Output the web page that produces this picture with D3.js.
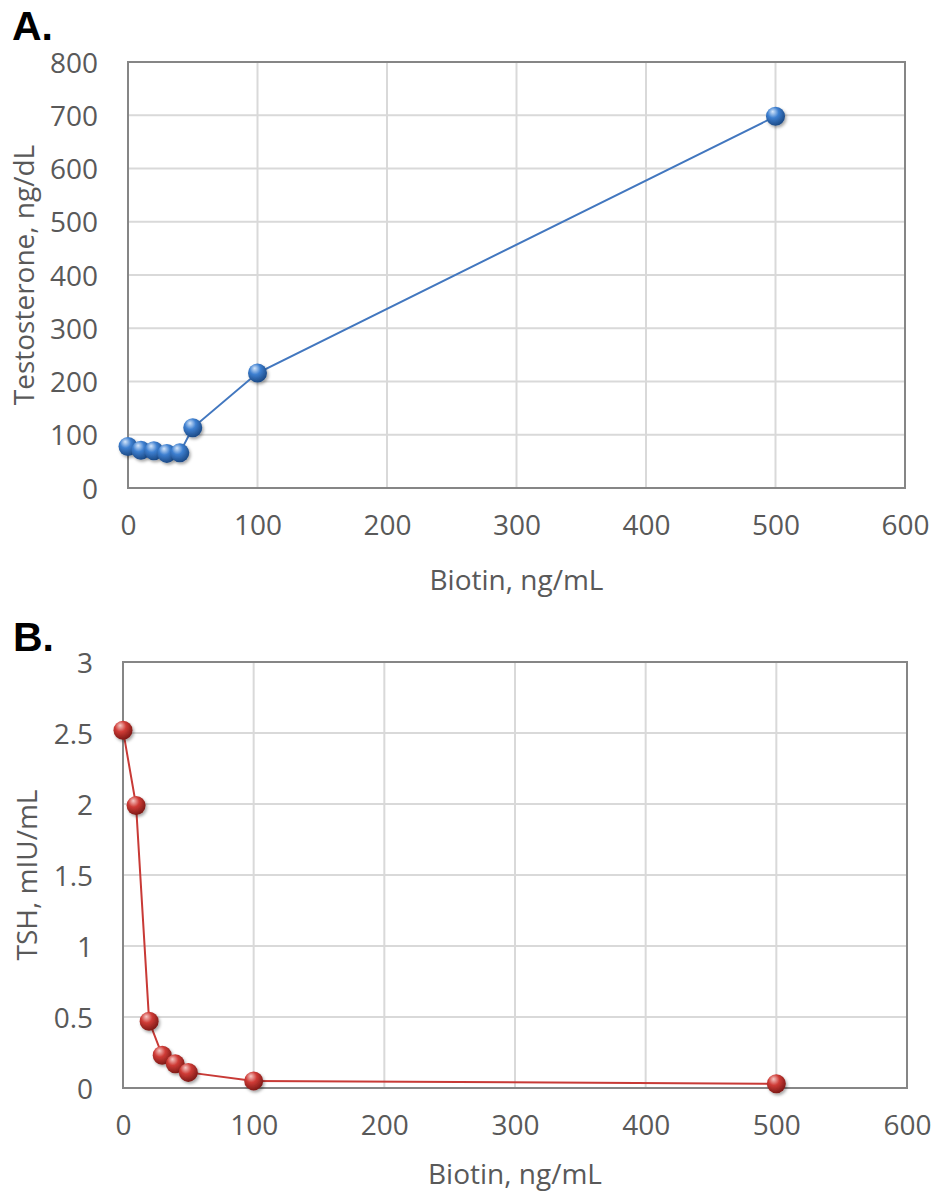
<!DOCTYPE html>
<html>
<head>
<meta charset="utf-8">
<script src="https://cdn.jsdelivr.net/npm/d3@7"></script>
<style>
  html, body { margin: 0; padding: 0; background: #fff; }
  svg { display: block; }
  .tick text { font-family: "Open Sans", sans-serif; font-size: 28px; fill: #595959; }
  .axis-title { font-family: "Open Sans", sans-serif; font-size: 28px; fill: #595959; }
  .panel-label { font-family: "Liberation Sans", Arial, sans-serif; font-size: 41px; font-weight: bold; fill: #000; }
</style>
</head>
<body>
<svg id="chart" width="933" height="1192"></svg>
<script>
// biotin concentration, shared by both panels
const biotin = [0, 10, 20, 30, 40, 50, 100, 500];
// panel A series
const testosterone = [78, 71, 70, 65, 66, 113, 216, 698];
// panel B series
const tsh = [2.52, 1.99, 0.47, 0.23, 0.17, 0.11, 0.05, 0.03];

const xTicks = [0, 100, 200, 300, 400, 500, 600];
const yTicksA = [0, 100, 200, 300, 400, 500, 600, 700, 800];
const yTicksB = [0, 0.5, 1, 1.5, 2, 2.5, 3];

const svg = d3.select('#chart');
const defs = svg.append('defs');

// shiny sphere look for the markers
function addSphere(id, light, mid, dark) {
    const g = defs.append('radialGradient')
        .attr('id', id)
        .attr('cx', '40%').attr('cy', '35%').attr('r', '65%')
        .attr('fx', '35%').attr('fy', '25%');
    g.append('stop').attr('offset', '0%').attr('stop-color', light);
    g.append('stop').attr('offset', '45%').attr('stop-color', mid);
    g.append('stop').attr('offset', '100%').attr('stop-color', dark);
}
addSphere('blueBall', '#d4e6fb', '#3d7fd0', '#1c4a86');
addSphere('redBall', '#f6c9c6', '#cf3b36', '#7e1a17');

const shadow = defs.append('filter').attr('id', 'shadow')
    .attr('x', '-50%').attr('y', '-50%').attr('width', '200%').attr('height', '200%');
shadow.append('feDropShadow')
    .attr('dx', 1.5).attr('dy', 2).attr('stdDeviation', 1.5)
    .attr('flood-color', '#000').attr('flood-opacity', 0.35);

function drawPanel(opts) {
    const x = d3.scaleLinear().domain([0, 600]).range([opts.left, opts.right]);
    const y = d3.scaleLinear().domain(opts.yDomain).range([opts.bottom, opts.top]);
    const g = svg.append('g');

    // gridlines
    g.selectAll('.hgrid')
        .data(opts.yTicks)
        .enter().append('line')
        .attr('x1', opts.left).attr('x2', opts.right)
        .attr('y1', d => y(d)).attr('y2', d => y(d))
        .attr('stroke', '#d9d9d9').attr('stroke-width', 2);

    g.selectAll('.vgrid')
        .data(xTicks)
        .enter().append('line')
        .attr('x1', d => x(d)).attr('x2', d => x(d))
        .attr('y1', opts.top).attr('y2', opts.bottom)
        .attr('stroke', '#d9d9d9').attr('stroke-width', 2);

    // plot border
    g.append('rect')
        .attr('x', opts.left).attr('y', opts.top)
        .attr('width', opts.right - opts.left)
        .attr('height', opts.bottom - opts.top)
        .attr('fill', 'none')
        .attr('stroke', '#868686').attr('stroke-width', 2);

    // axes (labels only)
    const xAxis = g.append('g')
        .attr('transform', 'translate(0,' + opts.bottom + ')')
        .call(d3.axisBottom(x).tickValues(xTicks).tickSize(0).tickPadding(27));
    xAxis.select('.domain').remove();

    const yAxis = g.append('g')
        .attr('transform', 'translate(' + opts.left + ',0)')
        .call(d3.axisLeft(y).tickValues(opts.yTicks).tickSize(0)
            .tickPadding(opts.yPad).tickFormat(d3.format('')));
    yAxis.select('.domain').remove();
    yAxis.selectAll('text').attr('dy', '0.36em');

    // titles
    g.append('text')
        .attr('class', 'axis-title')
        .attr('x', (opts.left + opts.right) / 2)
        .attr('y', opts.xTitleY)
        .attr('text-anchor', 'middle')
        .text('Biotin, ng/mL');

    g.append('text')
        .attr('class', 'axis-title')
        .attr('transform', 'translate(' + opts.yTitleX + ',' + ((opts.top + opts.bottom) / 2) + ') rotate(-90)')
        .attr('text-anchor', 'middle')
        .text(opts.yTitle);

    g.append('text')
        .attr('class', 'panel-label')
        .attr('x', opts.labelX).attr('y', opts.labelY)
        .text(opts.label);

    // series
    const pts = biotin.map((b, i) => [b, opts.values[i]]);
    const line = d3.line().x(d => x(d[0])).y(d => y(d[1]));

    g.append('path')
        .datum(pts)
        .attr('d', line)
        .attr('fill', 'none')
        .attr('stroke', opts.color)
        .attr('stroke-width', 2);

    g.selectAll('.marker')
        .data(pts)
        .enter().append('circle')
        .attr('cx', d => x(d[0]))
        .attr('cy', d => y(d[1]))
        .attr('r', 9.5)
        .attr('fill', 'url(#' + opts.ball + ')')
        .attr('filter', 'url(#shadow)');
}

drawPanel({
    left: 128, right: 905, top: 62, bottom: 488,
    yDomain: [0, 800], yTicks: yTicksA, yPad: 30,
    values: testosterone, color: '#4277bf', ball: 'blueBall',
    yTitle: 'Testosterone, ng/dL', yTitleX: 34, xTitleY: 590,
    label: 'A.', labelX: 12, labelY: 40
});

drawPanel({
    left: 123, right: 907, top: 662, bottom: 1088,
    yDomain: [0, 3], yTicks: yTicksB, yPad: 30,
    values: tsh, color: '#c83a36', ball: 'redBall',
    yTitle: 'TSH, mIU/mL', yTitleX: 37, xTitleY: 1184,
    label: 'B.', labelX: 13, labelY: 651
});
</script>
</body>
</html>
